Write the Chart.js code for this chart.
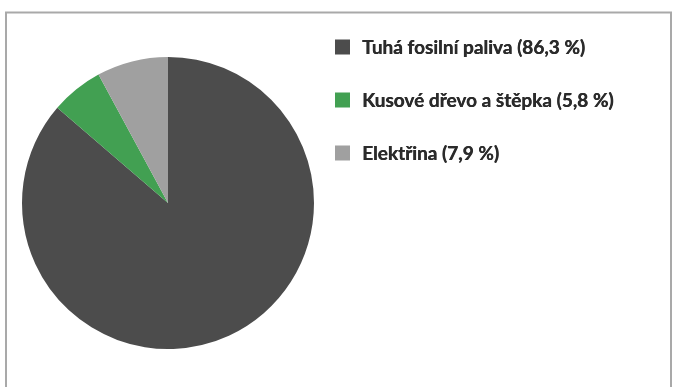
<!DOCTYPE html>
<html>
<head>
<meta charset="utf-8">
<script src="https://cdn.jsdelivr.net/npm/chart.js@4/dist/chart.umd.min.js"></script>
<style>
  html, body { margin: 0; padding: 0; background: #ffffff; }
  #wrap { width: 675px; height: 387px; position: relative; }
</style>
</head>
<body>
<div id="wrap"><canvas id="c" width="675" height="387"></canvas></div>
<script>
// Heating sources – shares in percent
const categories = ['Tuhá fosilní paliva', 'Kusové dřevo a štěpka', 'Elektřina'];
const shares = [86.3, 5.8, 7.9];
const sliceColors = ['#4c4c4c', '#42a052', '#a0a0a0'];

const fmt = v => v.toFixed(1).replace('.', ',') + ' %';
const legendLabels = categories.map((c, i) => c + ' (' + fmt(shares[i]) + ')');

// Outer frame around the whole figure
const framePlugin = {
  id: 'frame',
  beforeDraw(chart) {
    const ctx = chart.ctx;
    ctx.save();
    ctx.fillStyle = '#ffffff';
    ctx.fillRect(0, 0, chart.width, chart.height);
    ctx.strokeStyle = '#a9a9a9';
    ctx.lineWidth = 2;
    ctx.strokeRect(6, 12.5, 665, 420);
    ctx.restore();
  }
};

// Legend drawn beside the pie, one entry per row
const sideLegend = {
  id: 'sideLegend',
  afterDraw(chart) {
    const ctx = chart.ctx;
    const boxX = 335, box = 15, textX = 362, firstY = 47, rowGap = 53;
    ctx.save();
    ctx.font = 'bold 19px Lato, "Open Sans", sans-serif';
    ctx.textBaseline = 'middle';
    ctx.textAlign = 'left';
    legendLabels.forEach((label, i) => {
      const y = firstY + i * rowGap;
      ctx.fillStyle = sliceColors[i];
      ctx.fillRect(boxX, y - box / 2, box, box);
      ctx.fillStyle = '#2b2b2b';
      ctx.fillText(label, textX, y + 1);
      // slight second pass for a heavier stroke weight
      ctx.fillText(label, textX + 0.4, y + 1);
    });
    ctx.restore();
  }
};

new Chart(document.getElementById('c'), {
  type: 'pie',
  data: {
    labels: categories,
    datasets: [{
      data: shares,
      backgroundColor: sliceColors,
      borderWidth: 0
    }]
  },
  options: {
    responsive: false,
    animation: false,
    layout: { padding: { left: 22, top: 56, right: 361, bottom: 37 } },
    plugins: {
      legend: { display: false },
      tooltip: { enabled: false }
    }
  },
  plugins: [framePlugin, sideLegend]
});
</script>
</body>
</html>
